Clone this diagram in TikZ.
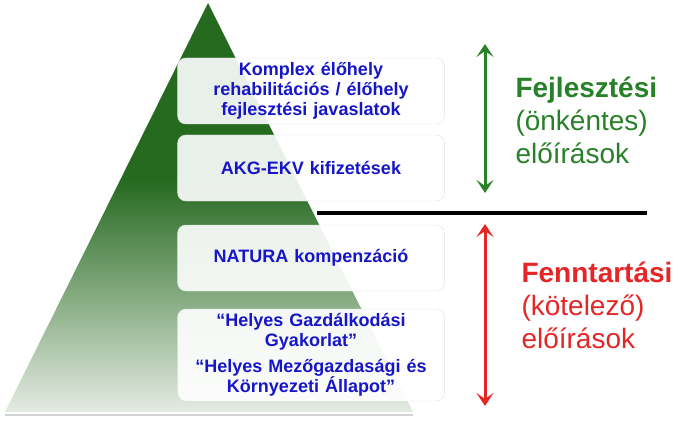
\documentclass[tikz,border=0pt]{standalone}
\usepackage{fontspec}
\setmainfont{Liberation Sans}
\usetikzlibrary{arrows.meta}
\definecolor{pyrtop}{RGB}{38,106,32}
\definecolor{pyrbot}{RGB}{228,235,226}
\definecolor{boxblue}{RGB}{22,22,200}
\definecolor{fejgreen}{RGB}{40,128,40}
\definecolor{fenred}{RGB}{228,38,38}
\tikzset{
  level/.style={draw=gray!25, fill=white, fill opacity=0.9, text opacity=1,
    rounded corners=8pt, minimum width=266pt, text width=260pt, align=center,
    text=boxblue, font=\fontsize{18}{20}\selectfont\bfseries},
  sidelabel/.style={anchor=west, align=left, font=\fontsize{28}{33}\selectfont},
  scalearrow/.style={line width=3pt, {Stealth[length=13pt,width=17pt,inset=6pt]}-{Stealth[length=13pt,width=17pt,inset=6pt]}}
}

\begin{document}
\begin{tikzpicture}[x=1pt,y=-1pt]
      \useasboundingbox (0,0) rectangle (696,425);
      % pyramid
      \draw[gray!35, line width=2pt] (5,415) -- (413,415);
      \begin{scope}
        \clip (208,3) -- (413,412) -- (5,412) -- cycle;
        \fill[pyrtop] (0,0) rectangle (420,181);
        \shade[top color=pyrtop, bottom color=pyrbot] (0,180) rectangle (420,412);
      \end{scope}
      % levels
      \node[level, minimum height=66pt] (komplex) at (311,91) {Komplex élőhely\\ rehabilitációs / élőhely\\ fejlesztési javaslatok};
      \node[level, minimum height=66pt] (akg) at (311,168) {AKG-EKV kifizetések};
      \node[level, minimum height=66pt] (natura) at (311,258) {NATURA kompenzáció};
      \node[level, minimum height=92pt] (helyes) at (311,355) {“Helyes Gazdálkodási\\ Gyakorlat”\\[6pt] “Helyes Mezőgazdasági és\\ Környezeti Állapot”};
      % dividing line
      \coordinate (divl) at (317,213);
      \coordinate (divr) at (647,213);
      \draw[line width=4pt] (divl) -- (divr);
      % arrows
      \coordinate (fejtop) at (485,44);
      \coordinate (fejbot) at (485,193);
      \coordinate (fentop) at (485,224);
      \coordinate (fenbot) at (485,406);
      \draw[scalearrow, fejgreen] (fejtop) -- (fejbot);
      \draw[scalearrow, fenred] (fentop) -- (fenbot);
      % labels
      \node[sidelabel, text=fejgreen] (fej) at (512,120) {\textbf{Fejlesztési}\\ (önkéntes)\\ előírások};
      \node[sidelabel, text=fenred] (fen) at (518,305) {\textbf{Fenntartási}\\ (kötelező)\\ előírások};
\end{tikzpicture}
\end{document}
